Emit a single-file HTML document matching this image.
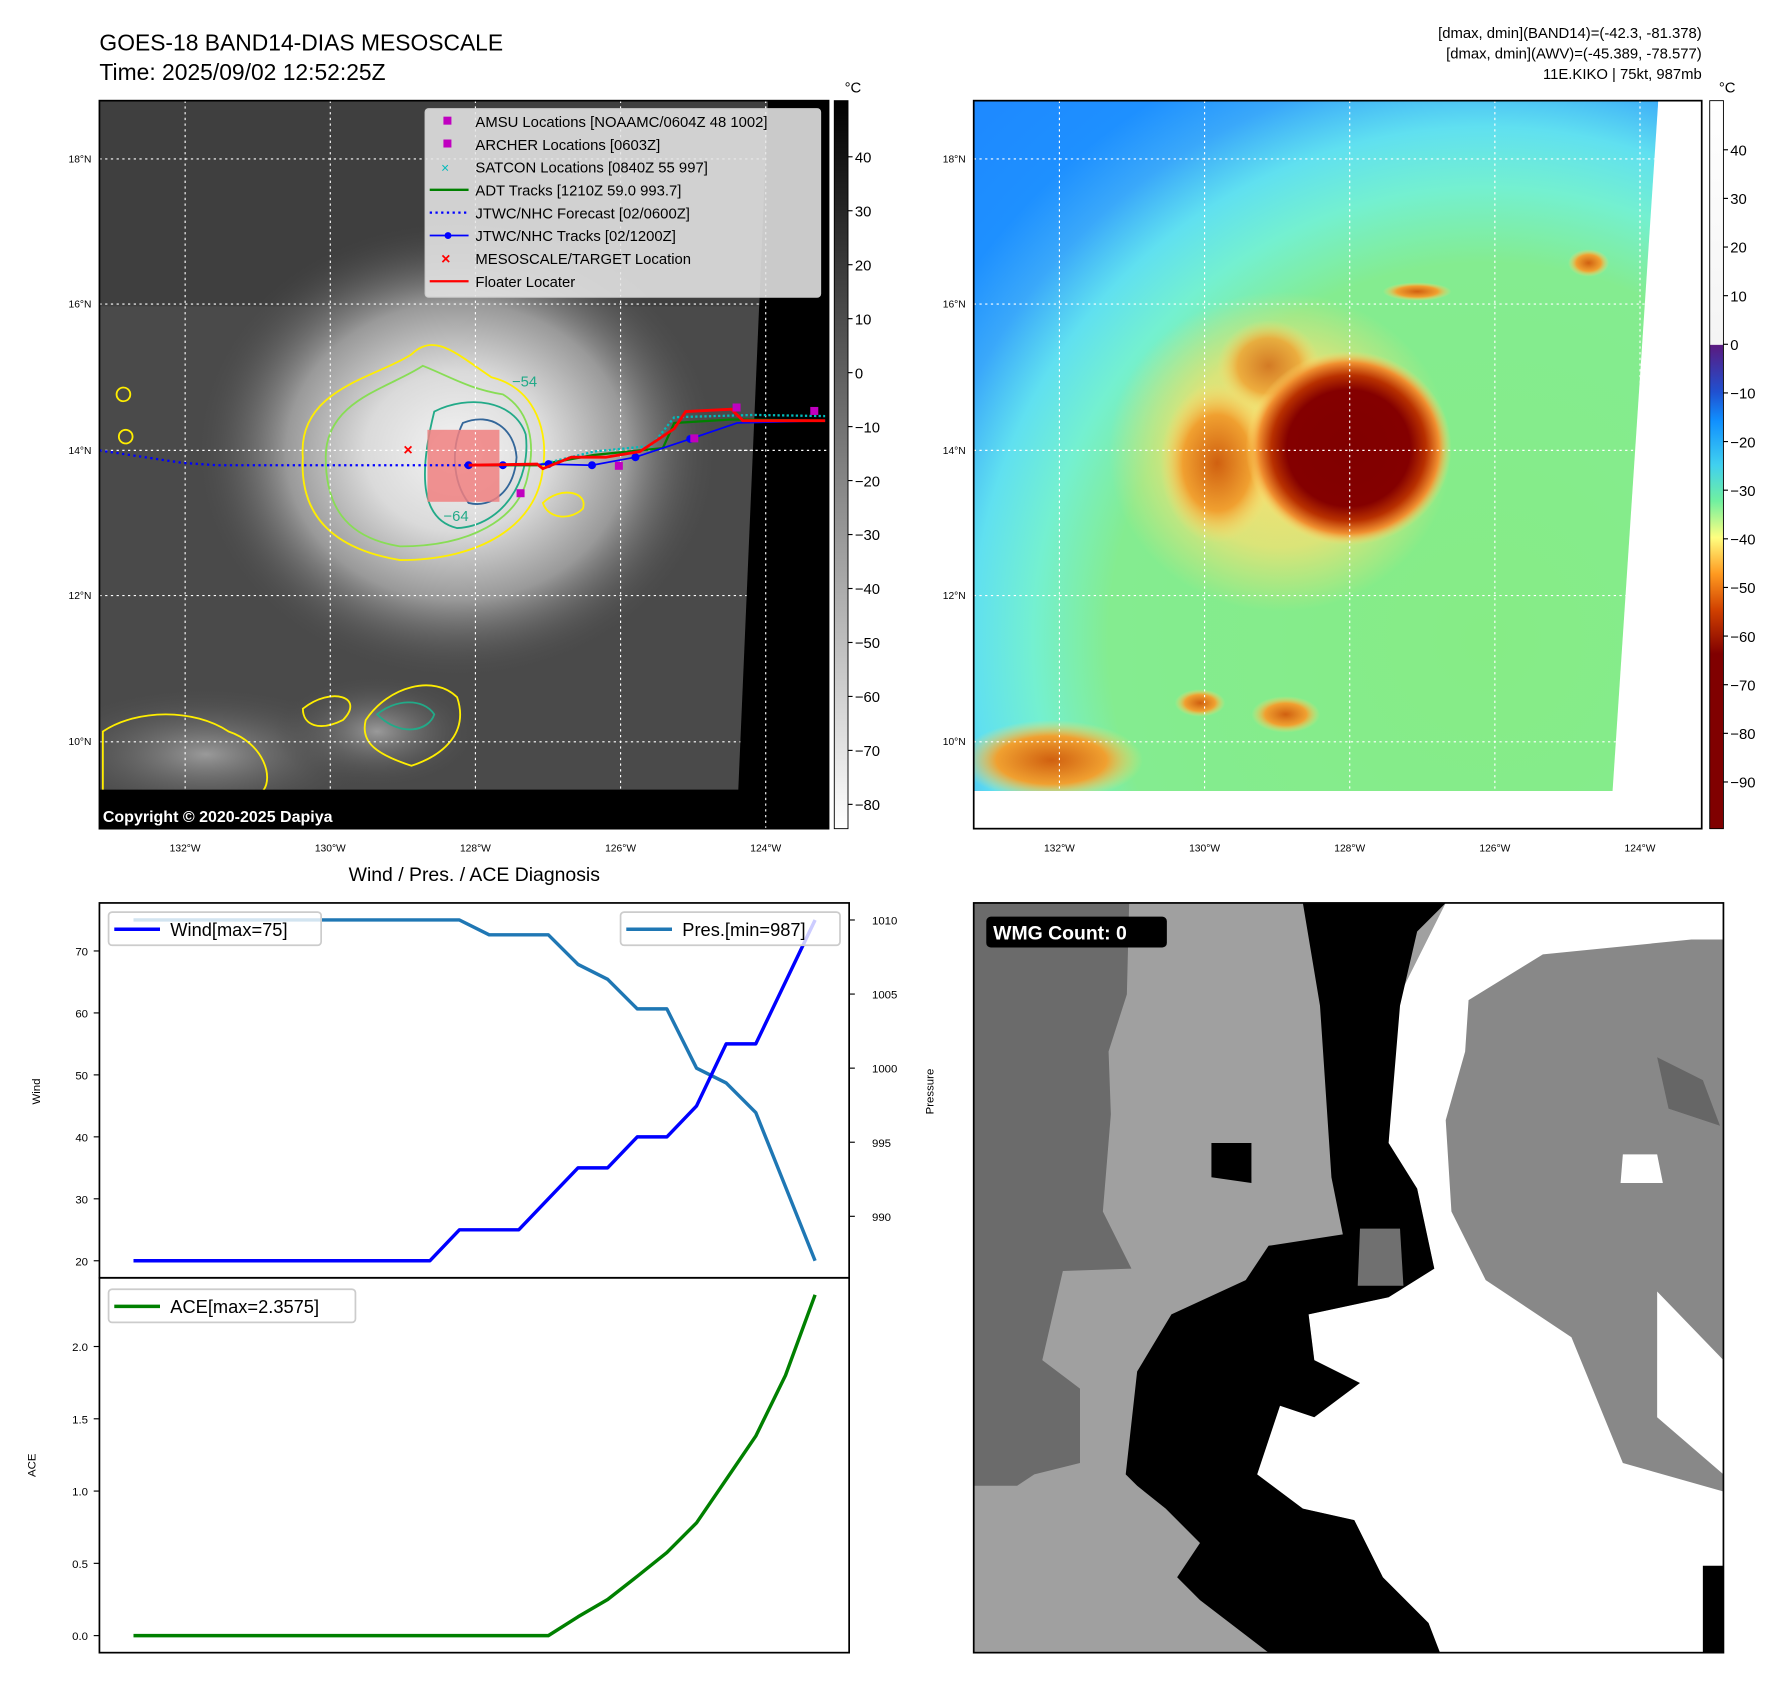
<!DOCTYPE html>
<html><head><meta charset="utf-8"><style>
html,body{margin:0;padding:0;background:#fff}
svg{display:block;font-family:"Liberation Sans","DejaVu Sans",sans-serif}
</style></head><body>
<svg width="1792" height="1690" viewBox="0 0 1568 1478.6" xmlns="http://www.w3.org/2000/svg">
<defs>
<clipPath id="c1"><polygon points="87,88 672,88 646,691 87,691"/></clipPath>
<clipPath id="c2"><polygon points="852,88 1451,88 1411,692 852,692"/></clipPath>
<radialGradient id="g1" cx="0.5" cy="0.5" r="0.5">
<stop offset="0" stop-color="#f4f4f4"/><stop offset="0.35" stop-color="#dadada"/><stop offset="0.65" stop-color="#999"/><stop offset="1" stop-color="#4a4a4a" stop-opacity="0"/></radialGradient>
<radialGradient id="soft" cx="0.5" cy="0.5" r="0.5">
<stop offset="0" stop-color="#9a9a9a"/><stop offset="1" stop-color="#4a4a4a" stop-opacity="0"/></radialGradient>
<radialGradient id="bgm2" cx="1300" cy="560" r="660" gradientUnits="userSpaceOnUse">
<stop offset="0" stop-color="#86ec86"/><stop offset="0.5" stop-color="#84ec90"/><stop offset="0.6" stop-color="#74f0d0"/><stop offset="0.68" stop-color="#60e0f0"/><stop offset="0.76" stop-color="#3aa8fa"/><stop offset="0.84" stop-color="#1e90ff"/><stop offset="1" stop-color="#1e88ff"/></radialGradient>
<radialGradient id="g2" cx="0.5" cy="0.5" r="0.5">
<stop offset="0" stop-color="#800000"/><stop offset="0.6" stop-color="#840000"/><stop offset="0.75" stop-color="#b83000"/><stop offset="0.88" stop-color="#f09030"/><stop offset="1" stop-color="#ffe070" stop-opacity="0"/></radialGradient>
<radialGradient id="halo" cx="0.5" cy="0.5" r="0.5">
<stop offset="0" stop-color="#ffe070"/><stop offset="0.6" stop-color="#ffe070" stop-opacity="0.7"/><stop offset="1" stop-color="#ffe070" stop-opacity="0"/></radialGradient>
<radialGradient id="g3" cx="0.5" cy="0.5" r="0.5">
<stop offset="0" stop-color="#d06010"/><stop offset="0.6" stop-color="#f0a030"/><stop offset="1" stop-color="#ffe070" stop-opacity="0"/></radialGradient>
<linearGradient id="cb1" x1="0" y1="0" x2="0" y2="1"><stop offset="0" stop-color="#000"/><stop offset="1" stop-color="#fff"/></linearGradient>
<linearGradient id="cb2" x1="0" y1="0" x2="0" y2="1">
<stop offset="0" stop-color="#fff"/><stop offset="0.335" stop-color="#f4f4f4"/><stop offset="0.336" stop-color="#5a1a80"/><stop offset="0.4" stop-color="#2050d0"/><stop offset="0.44" stop-color="#1090ff"/><stop offset="0.5" stop-color="#40d0f0"/><stop offset="0.55" stop-color="#70f0a0"/><stop offset="0.6" stop-color="#ffff80"/><stop offset="0.65" stop-color="#ff9a20"/><stop offset="0.7" stop-color="#d04000"/><stop offset="0.76" stop-color="#800000"/><stop offset="1" stop-color="#800000"/></linearGradient>
</defs>

<text x="87" y="44" font-size="20">GOES-18 BAND14-DIAS MESOSCALE</text>
<text x="87" y="70" font-size="20">Time: 2025/09/02 12:52:25Z</text>
<g font-size="13" text-anchor="end">
<text x="1489" y="33">[dmax, dmin](BAND14)=(-42.3, -81.378)</text>
<text x="1489" y="51">[dmax, dmin](AWV)=(-45.389, -78.577)</text>
<text x="1489" y="69">11E.KIKO | 75kt, 987mb</text></g>

<g>
<rect x="87" y="88" width="638" height="637" fill="#000"/>
<g clip-path="url(#c1)">
<rect x="87" y="88" width="600" height="610" fill="#4a4a4a"/>
<rect x="87" y="88" width="600" height="180" fill="#3c3c3c" opacity="0.8"/>
<ellipse cx="400" cy="395" rx="230" ry="200" fill="url(#g1)"/>
<ellipse cx="180" cy="660" rx="150" ry="60" fill="url(#soft)"/>
<ellipse cx="330" cy="640" rx="90" ry="50" fill="url(#soft)"/>
<g fill="none" stroke-width="1.6">
<path d="M265,400 C260,340 330,330 360,310 C380,290 400,310 430,330 C470,340 480,380 475,410 C470,460 420,490 350,490 C290,480 262,450 265,400Z" stroke="#ffee00"/>
<path d="M285,400 C285,350 340,340 370,320 C395,330 410,340 440,345 C465,360 468,390 462,415 C455,455 410,478 350,478 C300,470 285,440 285,400Z" stroke="#88dd55"/>
<path d="M380,360 C410,345 450,350 460,380 C465,420 440,460 400,462 C370,455 365,420 380,360Z" stroke="#22aa88"/>
<path d="M405,370 C430,360 450,375 452,400 C450,430 430,445 410,440 C395,420 395,390 405,370Z" stroke="#336699"/>
<path d="M90,640 C120,620 170,620 200,640 C230,650 240,680 230,692 L90,692Z" stroke="#ffee00"/>
<path d="M265,620 C290,600 320,610 300,630 C280,640 265,635 265,620Z" stroke="#ffee00"/>
<path d="M320,630 C340,600 380,590 400,610 C410,640 390,660 360,670 C330,660 315,650 320,630Z" stroke="#ffee00"/>
<path d="M330,625 C345,612 370,610 380,625 C375,640 350,645 330,625Z" stroke="#22aa88"/>
<path d="M475,440 C490,425 515,430 510,445 C500,455 480,455 475,440Z" stroke="#ffee00"/>
<circle cx="110" cy="382" r="6" stroke="#ffee00"/><circle cx="108" cy="345" r="6" stroke="#ffee00"/>
</g>
<g font-size="13" fill="#22aa88"><text x="388" y="456">−64</text><text x="448" y="338">−54</text></g>
</g>
<rect x="374" y="376" width="63" height="63" fill="#f08080" opacity="0.85"/>
<g clip-path="url(#c1)" fill="none" stroke="#fff" stroke-width="1" stroke-dasharray="2,3">
<line x1="162" y1="88" x2="162" y2="725"/><line x1="289" y1="88" x2="289" y2="725"/><line x1="416" y1="88" x2="416" y2="725"/><line x1="543" y1="88" x2="543" y2="725"/><line x1="670" y1="88" x2="670" y2="725"/>
<line x1="87" y1="139" x2="725" y2="139"/><line x1="87" y1="266" x2="725" y2="266"/><line x1="87" y1="394" x2="725" y2="394"/><line x1="87" y1="521" x2="725" y2="521"/><line x1="87" y1="649" x2="725" y2="649"/>
</g>
<g stroke="#fff" stroke-width="1" stroke-dasharray="2,3"><line x1="670" y1="88" x2="670" y2="725"/><line x1="646" y1="394" x2="725" y2="394"/></g>
<polyline points="87,394 160,405 190,407 410,407" fill="none" stroke="#0000ff" stroke-width="2" stroke-dasharray="2,3"/>
<polyline points="410,407 470,407 520,398 580,392 590,370 640,367 722,368" fill="none" stroke="#008000" stroke-width="2"/>
<polyline points="470,407 520,395 570,390 590,365 660,363 722,364" fill="none" stroke="#00bbbb" stroke-width="2" stroke-dasharray="2,2"/>
<polyline points="410,407 440,407 480,406 518,407 556,400 604,384 645,370 722,368" fill="none" stroke="#0000ff" stroke-width="1.5"/>
<g fill="#0000ff"><circle cx="410" cy="407" r="3.5"/><circle cx="440" cy="407" r="3.5"/><circle cx="480" cy="406" r="3.5"/><circle cx="518" cy="407" r="3.5"/><circle cx="556" cy="400" r="3.5"/><circle cx="604" cy="384" r="3.5"/></g>
<polyline points="410,407 470,406 475,410 500,400 530,400 560,395 590,375 600,360 640,358 650,368 722,368" fill="none" stroke="#ff0000" stroke-width="2.5"/>
<g fill="#c000c0"><rect x="452" y="428" width="7" height="7"/><rect x="641" y="353" width="7" height="7"/><rect x="709" y="356" width="7" height="7"/><rect x="604" y="380" width="7" height="7"/><rect x="538" y="404" width="7" height="7"/></g>
<text x="353" y="398" font-size="14" fill="#ff0000" font-weight="bold">×</text>
<rect x="87" y="88" width="638" height="637" fill="none" stroke="#000" stroke-width="1.5"/>
<text x="90" y="719" font-size="14" font-weight="bold" fill="#fff">Copyright © 2020-2025 Dapiya</text>
</g>
<g font-size="13">
<rect x="372" y="95" width="346" height="165" rx="3" fill="#e6e6e6" fill-opacity="0.88" stroke="#ccc"/>
<rect x="388" y="102" width="7" height="7" fill="#c000c0"/><text x="416" y="111">AMSU Locations [NOAAMC/0604Z 48 1002]</text>
<rect x="388" y="122" width="7" height="7" fill="#c000c0"/><text x="416" y="131">ARCHER Locations [0603Z]</text>
<text x="386" y="151" fill="#00bbbb" font-size="12">×</text><text x="416" y="151">SATCON Locations [0840Z 55 997]</text>
<line x1="376" y1="166" x2="410" y2="166" stroke="#008000" stroke-width="2"/><text x="416" y="171">ADT Tracks [1210Z 59.0 993.7]</text>
<line x1="376" y1="186" x2="410" y2="186" stroke="#0000ff" stroke-width="2" stroke-dasharray="2,3"/><text x="416" y="191">JTWC/NHC Forecast [02/0600Z]</text>
<line x1="376" y1="206" x2="410" y2="206" stroke="#0000ff" stroke-width="1.5"/><circle cx="392" cy="206" r="3" fill="#0000ff"/><text x="416" y="211">JTWC/NHC Tracks [02/1200Z]</text>
<text x="386" y="231" fill="#ff0000" font-weight="bold" font-size="14">×</text><text x="416" y="231">MESOSCALE/TARGET Location</text>
<line x1="376" y1="246" x2="410" y2="246" stroke="#ff0000" stroke-width="2"/><text x="416" y="251">Floater Locater</text>
</g>
<g font-size="9" text-anchor="end">
<text x="80" y="142">18°N</text><text x="80" y="269">16°N</text><text x="80" y="397">14°N</text><text x="80" y="524">12°N</text><text x="80" y="652">10°N</text></g>
<g font-size="9" text-anchor="middle">
<text x="162" y="745">132°W</text><text x="289" y="745">130°W</text><text x="416" y="745">128°W</text><text x="543" y="745">126°W</text><text x="670" y="745">124°W</text></g>
<g font-size="13">
<rect x="730" y="88" width="12" height="637" fill="url(#cb1)" stroke="#000" stroke-width="0.8"/>
<text x="739" y="81" font-size="13">°C</text>
<g id="cb1t"></g></g>

<g>
<rect x="852" y="88" width="637" height="637" fill="#fff"/>
<g clip-path="url(#c2)">
<rect x="852" y="88" width="637" height="637" fill="url(#bgm2)"/>
<ellipse cx="1120" cy="395" rx="150" ry="140" fill="url(#halo)"/>
<ellipse cx="1065" cy="405" rx="50" ry="70" fill="url(#g3)"/>
<ellipse cx="1110" cy="320" rx="45" ry="40" fill="url(#g3)" opacity="0.8"/>
<ellipse cx="1180" cy="392" rx="90" ry="85" fill="url(#g2)"/>
<ellipse cx="920" cy="665" rx="80" ry="35" fill="url(#g3)"/>
<ellipse cx="1050" cy="615" rx="22" ry="12" fill="url(#g3)"/>
<ellipse cx="1125" cy="625" rx="30" ry="16" fill="url(#g3)"/>
<ellipse cx="1390" cy="230" rx="18" ry="12" fill="url(#g3)"/>
<ellipse cx="1240" cy="255" rx="30" ry="8" fill="url(#g3)"/>
</g>
<g clip-path="url(#c2)" stroke="#fff" stroke-width="1" stroke-dasharray="2,3">
<line x1="927" y1="88" x2="927" y2="725"/><line x1="1054" y1="88" x2="1054" y2="725"/><line x1="1181" y1="88" x2="1181" y2="725"/><line x1="1308" y1="88" x2="1308" y2="725"/><line x1="1435" y1="88" x2="1435" y2="725"/>
<line x1="852" y1="139" x2="1489" y2="139"/><line x1="852" y1="266" x2="1489" y2="266"/><line x1="852" y1="394" x2="1489" y2="394"/><line x1="852" y1="521" x2="1489" y2="521"/><line x1="852" y1="649" x2="1489" y2="649"/>
</g>
<rect x="852" y="88" width="637" height="637" fill="none" stroke="#000" stroke-width="1.5"/>
</g>
<g font-size="9" text-anchor="end">
<text x="845" y="142">18°N</text><text x="845" y="269">16°N</text><text x="845" y="397">14°N</text><text x="845" y="524">12°N</text><text x="845" y="652">10°N</text></g>
<g font-size="9" text-anchor="middle">
<text x="927" y="745">132°W</text><text x="1054" y="745">130°W</text><text x="1181" y="745">128°W</text><text x="1308" y="745">126°W</text><text x="1435" y="745">124°W</text></g>
<g font-size="13">
<rect x="1496" y="88" width="12" height="637" fill="url(#cb2)" stroke="#000" stroke-width="0.8"/>
<text x="1504" y="81">°C</text><g id="cb2t"></g></g>

<text x="415" y="771" font-size="17" text-anchor="middle">Wind / Pres. / ACE Diagnosis</text>
<g id="chart"></g>

<g>
<rect x="852" y="790" width="656" height="656" fill="#a0a0a0"/>
<polygon fill="#6b6b6b" points="852,790 988,790 986,870 970,920 972,975 965,1060 990,1110 930,1112 912,1190 945,1215 945,1280 905,1290 890,1300 852,1300"/>
<polygon fill="#ffffff" points="1265,790 1508,790 1508,1446 1260,1446 1210,1380 1185,1330 1140,1320 1100,1290 1120,1230 1150,1190 1145,1150 1215,1135 1255,1110 1240,1040 1215,1000 1220,880"/>
<polygon fill="#888888" points="1285,875 1350,835 1480,822 1508,822 1508,1305 1420,1280 1375,1170 1300,1120 1270,1060 1265,980 1282,920"/>
<polygon fill="#ffffff" points="1420,1010 1450,1010 1455,1035 1418,1035"/>
<polygon fill="#ffffff" points="1450,1130 1508,1190 1508,1290 1450,1240"/>
<polygon fill="#666666" points="1450,925 1490,945 1505,985 1460,970"/>
<polygon fill="#000000" points="1140,790 1265,790 1240,815 1225,880 1215,1000 1240,1040 1255,1110 1215,1135 1145,1150 1150,1190 1190,1210 1150,1240 1120,1230 1100,1290 1140,1320 1185,1330 1210,1380 1250,1420 1260,1446 1110,1446 1050,1400 1030,1380 1050,1350 1020,1320 995,1300 985,1290 995,1200 1025,1150 1090,1120 1110,1090 1175,1080 1165,1030 1155,880"/>
<polygon fill="#707070" points="1190,1075 1225,1075 1228,1125 1188,1125"/>
<polygon fill="#000000" points="1060,1000 1095,1000 1095,1035 1060,1030"/>
<polygon fill="#000000" points="1490,1370 1508,1370 1508,1446 1490,1446"/>
<rect x="852" y="790" width="656" height="656" fill="none" stroke="#000" stroke-width="1.5"/>
<rect x="863" y="802" width="158" height="27" rx="4" fill="#000"/>
<text x="869" y="822" font-size="17" font-weight="bold" fill="#fff">WMG Count: 0</text>
</g>
</svg>
<script>
const NS='http://www.w3.org/2000/svg';
const cb1Ticks=[40,30,20,10,0,-10,-20,-30,-40,-50,-60,-70,-80];
const cb2Ticks=[40,30,20,10,0,-10,-20,-30,-40,-50,-60,-70,-80,-90];
const steps=[0,1,2,3,4,5,6,7,8,9,10,11,12,13,14,15,16,17,18,19,20,21,22,23];
const windVals=[20,20,20,20,20,20,20,20,20,20,20,25,25,25,30,35,35,40,40,45,55,55,65,75];
const presVals=[1010,1010,1010,1010,1010,1010,1010,1010,1010,1010,1010,1010,1009,1009,1009,1007,1006,1004,1004,1000,999,997,992,987];
const aceVals=[0,0,0,0,0,0,0,0,0,0,0,0,0,0,0,0.13,0.25,0.41,0.575,0.78,1.08,1.38,1.80,2.3575];
const windTicks=[20,30,40,50,60,70];
const presTicks=[990,995,1000,1005,1010];
const aceTicks=[0.0,0.5,1.0,1.5,2.0];
function mk(t,a,p){const e=document.createElementNS(NS,t);for(const k in a)e.setAttribute(k,a[k]);(p||chart).appendChild(e);return e;}
function txt(x,y,s,extra,p){const e=mk('text',Object.assign({x:x,y:y,'font-size':11},extra||{}),p);e.textContent=s;return e;}
const chart=document.getElementById('chart');
const cbA=document.getElementById('cb1t'),cbB=document.getElementById('cb2t');
const cb1Y=v=>88+(50.4-v)/(50.4+84.5)*637;
const cb2Y=v=>88+(50.1-v)/(50.1+99.6)*637;
cb1Ticks.forEach(v=>{mk('line',{x1:742,x2:746,y1:cb1Y(v),y2:cb1Y(v),stroke:'#000'},cbA);const t=txt(748,cb1Y(v)+5,String(v).replace('-','−'),{'font-size':13},cbA);});
cb2Ticks.forEach(v=>{mk('line',{x1:1508,x2:1512,y1:cb2Y(v),y2:cb2Y(v),stroke:'#000'},cbB);const t=txt(1514,cb2Y(v)+5,String(v).replace('-','−'),{'font-size':13},cbB);});
const L=87,R=743,T1=790,B1=1118,T2=1118,B2=1446;
const xS=i=>L+(i+1.15)/25.3*(R-L);
const wMin=17.25,wMax=77.75,pMin=985.85,pMax=1011.15,aMin=-0.117875,aMax=2.475375;
const yW=v=>B1-(v-wMin)/(wMax-wMin)*(B1-T1);
const yP=v=>B1-(v-pMin)/(pMax-pMin)*(B1-T1);
const yA=v=>B2-(v-aMin)/(aMax-aMin)*(B2-T2);
mk('rect',{x:L,y:T1,width:R-L,height:B1-T1,fill:'#fff'});
mk('rect',{x:L,y:T2,width:R-L,height:B2-T2,fill:'#fff'});
function line(vals,fy,color,name){const pts=steps.map((s,i)=>xS(s).toFixed(1)+','+fy(vals[i]).toFixed(1)).join(' ');const e=mk('polyline',{points:pts,fill:'none',stroke:color,'stroke-width':3,'stroke-linejoin':'round'});}
line(presVals,yP,'#1f77b4','pressure-line');
line(windVals,yW,'#0000ff','wind-line');
line(aceVals,yA,'#008000','ace-line');
windTicks.forEach(v=>{mk('line',{x1:L-5,x2:L,y1:yW(v),y2:yW(v),stroke:'#000'});const t=txt(L-10,yW(v)+4,String(v),{'text-anchor':'end','font-size':10});});
presTicks.forEach(v=>{mk('line',{x1:R,x2:R+5,y1:yP(v),y2:yP(v),stroke:'#000'});const t=txt(R+20,yP(v)+4,String(v),{'font-size':10});});
aceTicks.forEach(v=>{mk('line',{x1:L-5,x2:L,y1:yA(v),y2:yA(v),stroke:'#000'});const t=txt(L-10,yA(v)+4,v.toFixed(1),{'text-anchor':'end','font-size':10});});
mk('rect',{x:L,y:T1,width:R-L,height:B1-T1,fill:'none',stroke:'#000','stroke-width':1.5});
mk('rect',{x:L,y:T2,width:R-L,height:B2-T2,fill:'none',stroke:'#000','stroke-width':1.5});
let t;
t=txt(35,955,'Wind',{transform:'rotate(-90 35 955)','text-anchor':'middle','font-size':10});
t=txt(817,955,'Pressure',{transform:'rotate(-90 817 955)','text-anchor':'middle','font-size':10});
t=txt(31,1282,'ACE',{transform:'rotate(-90 31 1282)','text-anchor':'middle','font-size':10});
function legend(x,y,w,color,label,name){const g=mk('g',{});mk('rect',{x:x,y:y,width:w,height:29,rx:3,fill:'#fff','fill-opacity':0.8,stroke:'#ccc','stroke-width':1.5},g);mk('line',{x1:x+5,x2:x+45,y1:y+15,y2:y+15,stroke:color,'stroke-width':3},g);txt(x+54,y+21,label,{'font-size':16},g);}
legend(95,798,186,'#0000ff','Wind[max=75]','wind-legend');
legend(543,798,192,'#1f77b4','Pres.[min=987]','pressure-legend');
legend(95,1128,216,'#008000','ACE[max=2.3575]','ace-legend');
</script>
</body></html>
